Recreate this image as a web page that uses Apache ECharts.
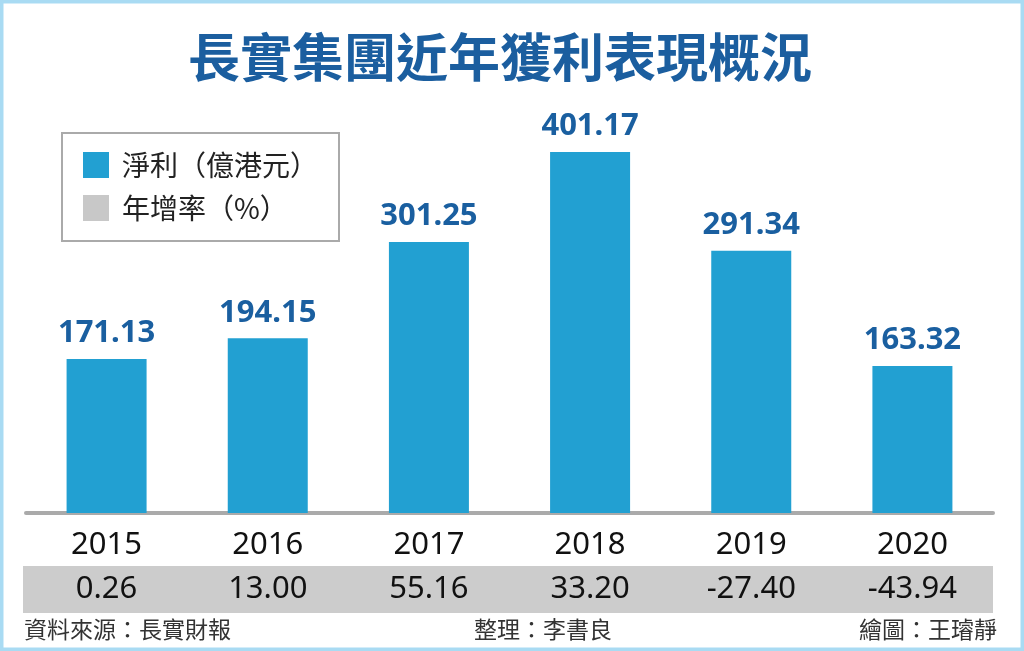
<!DOCTYPE html>
<html>
<head>
<meta charset="utf-8">
<script src="https://cdn.jsdelivr.net/npm/echarts@6/dist/echarts.min.js"></script>
<style>
	html, body { margin: 0; padding: 0; background: #fff; }
	#chart { width: 1024px; height: 651px; }
</style>
</head>
<body>
<div id="chart"></div>
<script>
'use strict';
var years = ['2015', '2016', '2017', '2018', '2019', '2020'];
var netProfit = [171.13, 194.15, 301.25, 401.17, 291.34, 163.32];
var growth = ['0.26', '13.00', '55.16', '33.20', '-27.40', '-43.94'];

var CJK = '"Noto Sans CJK TC", "Noto Sans", sans-serif';
var NUM = '"Noto Sans", "Noto Sans CJK TC", sans-serif';

var option = {
	animation: false,
	backgroundColor: '#fff',
	title: {
		text: '長實集團近年獲利表現概況',
		left: 183,
		top: 26,
		textStyle: {
			fontFamily: CJK,
			fontSize: 52,
			fontWeight: 'bold',
			color: '#1b5e9f'
		}
	},
	legend: {
		orient: 'vertical',
		left: 62,
		top: 133,
		padding: [18, 21, 19, 21],
		borderColor: '#aaa',
		borderWidth: 2,
		itemWidth: 26,
		itemHeight: 26,
		itemGap: 15,
		icon: 'rect',
		textStyle: {
			fontFamily: CJK,
			fontSize: 28,
			color: '#222',
			padding: [0, 0, 0, 8]
		},
		data: ['淨利（億港元）', '年增率（%）']
	},
	grid: {
		left: 26,
		right: 31,
		top: 108,
		bottom: 138
	},
	xAxis: [
		{
			type: 'category',
			data: years,
			axisLine: { lineStyle: { color: '#aaa', width: 4 } },
			axisTick: { alignWithLabel: true, length: 12, lineStyle: { color: '#aaa', width: 3 } },
			axisLabel: { margin: 17, fontFamily: NUM, fontSize: 31, color: '#111' }
		},
		{
			type: 'category',
			position: 'bottom',
			offset: 45,
			data: growth,
			axisLine: { show: false },
			axisTick: { show: false },
			axisLabel: { margin: 16, fontFamily: NUM, fontSize: 31, color: '#111' }
		}
	],
	yAxis: {
		type: 'value',
		min: 0,
		max: 450,
		show: false
	},
	series: [
		{
			name: '淨利（億港元）',
			type: 'bar',
			barWidth: 80,
			data: netProfit,
			itemStyle: { color: '#22a0d2' },
			label: {
				show: true,
				position: 'top',
				distance: 10,
				fontFamily: NUM,
				fontSize: 31,
				fontWeight: 'bold',
				color: '#1a5fa0',
				formatter: function (p) { return p.value.toFixed(2); }
			}
		},
		{
			// only there for the legend entry; the values sit in the grey band
			name: '年增率（%）',
			type: 'line',
			data: [],
			itemStyle: { color: '#c8c8c8' }
		}
	],
	graphic: [
		{
			type: 'rect',
			z: -10,
			shape: { x: 23, y: 566, width: 970, height: 47 },
			style: { fill: '#cccccc' }
		},
		{
			type: 'rect',
			z: 100,
			shape: { x: 1.5, y: 1.5, width: 1021, height: 648 },
			style: { fill: 'none', stroke: '#a9dbf3', lineWidth: 4 }
		},
		{
			type: 'text',
			left: 24,
			top: 618,
			style: { text: '資料來源：長實財報', font: '23px ' + CJK, fill: '#333' }
		},
		{
			type: 'text',
			left: 474,
			top: 618,
			style: { text: '整理：李書良', font: '23px ' + CJK, fill: '#333' }
		},
		{
			type: 'text',
			right: 27,
			top: 618,
			style: { text: '繪圖：王璿靜', font: '23px ' + CJK, fill: '#333' }
		}
	]
};

var chart = echarts.init(document.getElementById('chart'));
chart.setOption(option);
</script>
</body>
</html>
